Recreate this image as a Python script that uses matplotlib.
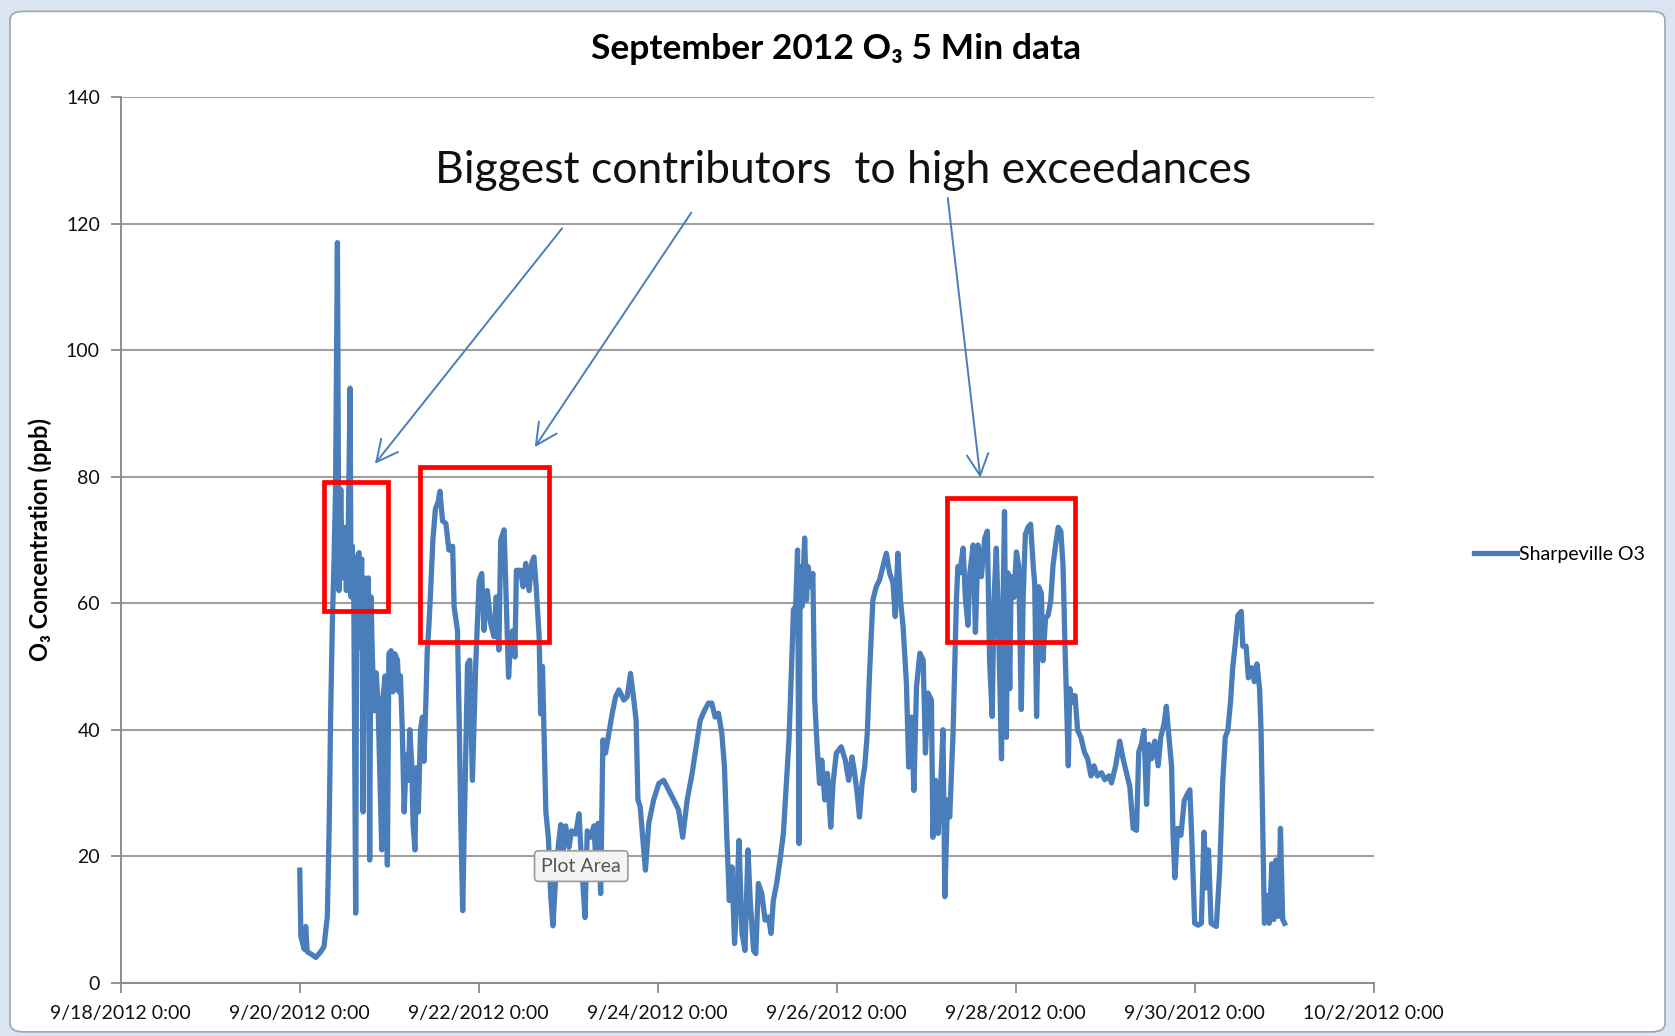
import matplotlib
matplotlib.use("Agg")
import matplotlib.pyplot as plt
import matplotlib.dates as mdates
import matplotlib.patches as mpatches
from matplotlib.ticker import FuncFormatter
import pandas as pd

plt.rcParams["font.family"] = ["Lato", "DejaVu Sans"]

START = pd.Timestamp("2012-09-20 00:00")

# hours after 9/20/2012 0:00
hours = [
    0, 0.3, 1.2, 1.6, 2.0, 3.4, 4.3, 5.6, 6.5, 7.4, 7.9, 8.3, 8.75, 9.2, 9.6,
    10.1, 10.4, 10.5, 11.0, 11.4, 11.9, 12.5, 13.0, 13.5, 13.75, 14.1, 14.5,
    15.0, 15.3, 15.9, 16.2, 16.6, 17.0, 17.3, 17.9, 18.4, 18.75, 19.1, 19.5,
    20.0, 20.5, 21.0, 22.0, 22.3, 22.9, 23.5, 23.9, 24.5, 25.0, 25.5, 26.2,
    26.6, 27.0, 27.5, 28.0, 28.6, 29.1, 29.5, 30.0, 30.4, 30.9, 31.25, 31.8,
    32.4, 32.9, 33.3, 33.75, 34.2, 34.6, 35.1, 35.7, 36.4, 37.1, 37.6, 38.3,
    39.2, 40.0, 41.0, 41.4, 42.3, 42.8, 43.2, 43.7, 44.1, 45.0, 45.6, 46.3,
    47.2, 48.1, 48.8, 49.4, 50.3, 51.2, 52.1, 52.7, 53.4, 53.9, 54.8, 55.4,
    56.0, 56.6, 57.2, 57.7, 58.1, 59.2, 59.9, 60.6, 61.5, 62.2, 62.8, 63.4,
    64.2, 64.6, 65.1, 65.5, 66.0, 66.7, 67.3, 67.9, 68.6, 69.4, 70.0, 70.6,
    71.3, 72.2, 72.9, 74.0, 74.9, 75.6, 76.5, 77.1, 78.0, 78.9, 79.3, 80.0,
    80.7, 81.3, 82.0, 82.9, 83.8, 84.7, 85.6, 86.9, 87.8, 88.7, 89.6, 90.2,
    90.7, 91.3, 91.9, 92.7, 93.6, 94.9, 96.3, 97.6, 99.0, 100.3, 101.6, 102.7,
    103.9, 105.2, 106.3, 107.4, 108.6, 109.6, 110.5, 111.4, 112.3, 113.2,
    113.9, 114.5, 115.2, 115.9, 116.6, 117.2, 117.8, 118.6, 119.4, 120.2,
    120.8, 121.7, 122.3, 123.0, 123.9, 124.8, 125.7, 126.4, 127.0, 127.9,
    128.8, 129.7, 130.6, 131.2, 131.9, 132.4, 133.0, 133.5, 133.9, 134.2,
    134.7, 135.4, 135.9, 136.3, 137.0, 137.6, 138.1, 138.8, 139.4, 140.0,
    140.8, 141.5, 142.4, 143.0, 143.9, 145.2, 146.3, 147.2, 148.1, 148.8,
    149.5, 150.1, 150.8, 151.5, 152.2, 152.8, 153.7, 154.6, 155.5, 156.4,
    157.3, 158.2, 159.1, 159.7, 160.4, 161.1, 161.8, 162.7, 163.3, 164.0,
    164.7, 165.4, 166.3, 167.2, 167.8, 168.5, 169.4, 169.8, 170.5, 171.2,
    171.9, 172.5, 173.0, 173.7, 174.3, 175.2, 176.1, 176.5, 177.0, 177.9,
    178.5, 179.2, 179.7, 180.6, 181.2, 181.9, 182.8, 183.7, 184.4, 185.0,
    185.7, 186.2, 186.8, 187.4, 188.2, 188.6, 189.0, 189.5, 189.9, 190.4,
    190.8, 191.5, 192.2, 192.8, 193.5, 194.0, 194.6, 195.3, 196.0, 196.7,
    197.1, 197.6, 198.2, 198.9, 199.3, 200.0, 200.7, 201.4, 202.0, 202.7,
    203.4, 204.1, 204.7, 205.2, 205.6, 206.1, 206.5, 207.2, 207.9, 208.6,
    209.5, 210.4, 211.3, 212.2, 213.0, 213.9, 215.0, 215.9, 217.0, 217.7,
    218.8, 219.9, 220.8, 221.7, 222.6, 223.5, 224.4, 225.0, 225.7, 226.4,
    227.1, 227.7, 228.4, 229.3, 230.2, 230.9, 231.8, 232.4, 233.1, 233.8,
    234.2, 234.7, 235.4, 236.3, 237.2, 238.1, 238.7, 239.2, 240.0, 240.9,
    241.8, 242.5, 243.1, 243.7, 244.4, 245.8, 246.7, 247.5, 248.2, 248.9,
    249.6, 250.2, 250.9, 251.6, 252.5, 252.9, 253.8, 254.4, 255.3, 256.0,
    256.7, 257.4, 257.8, 258.2, 258.7, 259.4, 260.0, 260.7, 261.2, 261.8,
    262.5, 263.0, 263.6, 264.1,
]

ozone = [
    17.8, 7.3, 5.3, 8.9, 4.9, 4.4, 4.0, 4.9, 5.7, 10.5, 25, 43, 57, 67, 78,
    117, 78, 62, 78, 64, 72, 62, 71, 94, 61, 69, 60,
    11, 67, 68, 53, 67, 27, 64, 54, 64, 19.4, 61, 51,
    43, 49, 44, 21, 45, 48.5, 18.6, 52, 52.5, 46, 52, 51,
    46, 48.5, 40, 27, 36, 32, 40, 35, 25, 21, 34, 27,
    40, 42, 35, 43, 52.5, 56, 62, 70, 75, 76, 77.7, 73,
    72.6, 68.4, 69, 59.4, 55.7, 40, 25, 11.4, 24, 50.4, 51, 32,
    50.4, 63.6, 64.7, 55.7, 62, 56.8, 54.7, 61, 52.6, 70, 71.6, 60,
    48.3, 54.7, 55.7, 51.5, 65.2, 65.2, 62.6, 66.3, 62, 66.3, 67.3, 62.6,
    54.7, 42.5, 50, 40, 27, 22.8, 13.7, 9, 16.3, 22, 25, 21,
    24.8, 21.4, 24, 23.5, 26.7, 18.7, 10.3, 24, 23, 24.8, 20.4, 25.2,
    14.1, 38.4, 36.3, 39.4, 42.6, 45.2, 46.3, 44.7, 45.2, 48.9, 44.7, 41.5,
    28.9, 27.8, 23.6, 17.8, 25.2, 28.9, 31.5, 32, 30.4, 28.9, 27.3, 23,
    28.9, 33, 37.3, 41.5, 43.1, 44.2, 44.2, 42, 42.6, 39.4,
    34.1, 23.6, 13, 18.3, 6.2, 13, 22.5, 7.8, 5.1, 21,
    13, 5.1, 4.6, 15.7, 14.1, 9.9, 10.4, 7.8, 13, 15.7,
    19.4, 23.6, 32.6, 38.4, 50, 59, 59.5, 68.4, 22, 65.8,
    59.5, 70.3, 60.5, 65.8, 62.6, 64.7, 44.7, 36.8, 31.5, 35.2,
    28.9, 33.1, 24.6, 31.5, 36.3, 37.3, 35.2, 32, 35.7, 33.1,
    29.9, 26.2, 31.5, 34.1, 39.4, 48.9, 60.5, 62.6, 63.7, 65.8,
    67.9, 64.7, 63.2, 57.9, 67.9, 60.5, 56.3, 47.3, 34.1, 42,
    30.4, 46.8, 52.1, 51, 36.3, 45.8, 44.7, 23, 32, 23.6,
    31.5, 40, 13.6, 28.9, 26.2, 39.4, 60.5, 65.8, 64.8, 68.7,
    60.9, 56.5, 64.8, 69.2, 55.4, 69.2, 64.2, 70.3, 71.4, 50.9,
    42.1, 60.9, 68.7, 56.5, 35.4, 59.2, 74.5, 38.8, 64.8, 46.5,
    64.2, 60.9, 68.1, 65.9, 43.2, 60.9, 70.9, 72, 72.5, 65.9,
    63.1, 42.1, 62.6, 61.5, 50.9, 57.6, 58.1, 60.4, 65.9, 69.2,
    72, 71.4, 65.9, 53.7, 45.4, 34.3, 46.5, 44.3, 45.4, 39.9,
    38.8, 36.5, 35.4, 32.7, 34.3, 32.7, 33.2, 32.1, 32.7, 31.6,
    34.3, 38.2, 35.4, 33.2, 31, 24.4, 24.1, 36.5, 37.7, 39.9,
    28.2, 37.7, 35.4, 38.2, 34.3, 38.8, 41, 43.7, 38.8, 34.3,
    23.3, 16.6, 24.4, 23.3, 28.8, 29.9, 30.5, 23.3, 9.4, 9.1,
    9.4, 23.8, 15, 21, 9.4, 8.9, 17.7, 31.6, 38.8, 39.9,
    44.3, 49.8, 53.7, 58.1, 58.7, 53.2, 53.2, 48.2, 49.8, 47.6,
    50.4, 46.5, 39.9, 26, 9.4, 13.8, 9.4, 18.8, 10, 19.4,
    10.5, 24.4, 10, 9.4,
]

series_name = "Sharpeville O3"
title_text = "September 2012 O\u2083 5 Min data"
ylabel_text = "O\u2083 Concentration (ppb)"
note_text = "Biggest contributors  to high exceedances"
y_ticks = [0, 20, 40, 60, 80, 100, 120, 140]
x_ticks = pd.date_range("2012-09-18", "2012-10-02", freq="2D")

# highlighted periods: (start hour, end hour, low, high)
boxes = [(6.6, 23.7, 58.8, 79.2), (32.3, 66.9, 53.9, 81.6), (173.7, 208.0, 53.9, 76.7)]
# arrows: (tail hour, tail value, head hour, head value)
arrows = [(70.8, 119.6, 19.7, 81.7), (105.4, 122.1, 62.6, 84.3), (173.7, 124.5, 182.6, 79.4)]

BLUE = "#4a7ebb"
GRID = "#a0a0a0"


def to_num(h):
    return mdates.date2num(START + pd.Timedelta(hours=h))


times = START + pd.to_timedelta(hours, unit="h")

fig = plt.figure(figsize=(16.75, 10.36), dpi=100, facecolor="#dbe5f1")
frame = mpatches.FancyBboxPatch((0.006, 0.004), 0.988, 0.985, boxstyle="round,pad=0,rounding_size=0.008",
                                transform=fig.transFigure, facecolor="white", edgecolor="#9aa7b5", lw=1.2,
                                zorder=-10)
fig.patches.append(frame)

ax = fig.add_axes([0.0721, 0.0514, 0.748, 0.8548])
ax.set_facecolor("none")
ax.plot(times, ozone, color=BLUE, lw=3.8, solid_joinstyle="round", label=series_name, zorder=3)

ax.set_ylim(0, 140)
ax.set_yticks(y_ticks)
ax.set_xlim(mdates.date2num(x_ticks[0]), mdates.date2num(x_ticks[-1]))
ax.set_xticks(mdates.date2num(x_ticks))
ax.xaxis.set_major_formatter(FuncFormatter(
    lambda v, pos: (lambda d: f"{d.month}/{d.day}/{d.year} {d.hour}:{d.minute:02d}")(mdates.num2date(v))))
ax.grid(axis="y", color=GRID, lw=1.5)
ax.set_axisbelow(True)
for s in ["top", "right"]:
    ax.spines[s].set_visible(False)
for s in ["left", "bottom"]:
    ax.spines[s].set_color("#8c8c8c")
    ax.spines[s].set_linewidth(1.4)
ax.tick_params(axis="both", direction="out", length=7, width=1.3, color="#8c8c8c",
               labelsize=14, labelcolor="#111111")
ax.tick_params(axis="y", pad=8)
ax.tick_params(axis="x", pad=9)

ax.set_ylabel(ylabel_text, fontsize=17, fontweight="bold")
ax.yaxis.set_label_coords(-0.055, 0.5)
fig.text(0.499, 0.953, title_text, ha="center", va="center", fontsize=25.5, fontweight="bold")

for h0, h1, lo, hi in boxes:
    x0 = to_num(h0)
    rect = mpatches.Rectangle((x0, lo), to_num(h1) - x0, hi - lo, fill=False, edgecolor="#ff0000",
                              lw=3.4, zorder=4, clip_on=False)
    ax.add_patch(rect)

for th, tv, hh, hv in arrows:
    ax.annotate("", xy=(to_num(hh), hv), xytext=(to_num(th), tv),
                arrowprops=dict(arrowstyle="->,head_length=0.7,head_width=0.35", color=BLUE, lw=1.4,
                                mutation_scale=22), zorder=5)

ax.text(to_num(145.8), 128.4, note_text, ha="center", va="center", fontsize=32, color="#111111")

fig.text(0.347, 0.164, "Plot Area", ha="center", va="center", fontsize=14, color="#555555", zorder=6,
         bbox=dict(boxstyle="round,pad=0.35,rounding_size=0.2", facecolor="#f4f4f4", edgecolor="#9a9a9a", lw=1.2))

ax.legend(loc="center left", bbox_to_anchor=(0.880, 0.465), bbox_transform=fig.transFigure,
          frameon=False, fontsize=14, handlelength=2.2, handletextpad=0.1, borderpad=0, borderaxespad=0)

fig.savefig("out.png", dpi=100, facecolor=fig.get_facecolor())
